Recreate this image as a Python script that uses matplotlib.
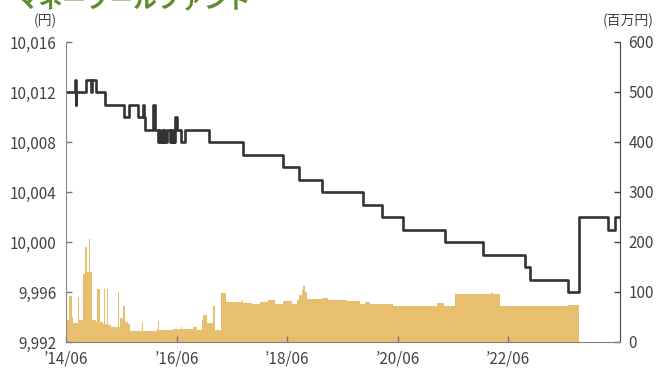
import pandas as pd
import matplotlib
matplotlib.use('Agg')
import matplotlib.pyplot as plt

plt.rcParams['font.family'] = ['Noto Sans CJK JP', 'DejaVu Sans']

# 基準価額 (円) - change points of the step line
nav_dates = ['2014-06-01', '2014-08-01', '2014-08-03', '2014-08-05', '2014-10-10',
             '2014-11-12', '2014-11-21', '2014-12-15', '2015-02-15', '2015-06-21',
             '2015-07-21', '2015-09-18', '2015-10-22', '2015-11-01', '2015-11-06',
             '2015-12-25', '2016-01-08', '2016-02-01', '2016-02-09', '2016-02-14',
             '2016-02-24', '2016-03-01', '2016-03-12', '2016-03-16', '2016-03-28',
             '2016-04-21', '2016-04-28', '2016-05-03', '2016-05-12', '2016-05-15',
             '2016-05-22', '2016-06-06', '2016-07-01', '2016-07-26', '2017-01-04',
             '2017-08-16', '2018-05-07', '2018-08-19', '2019-01-16', '2019-10-13',
             '2020-02-19', '2020-07-04', '2021-04-07', '2021-12-19', '2022-09-22',
             '2022-10-25', '2023-07-01', '2023-09-16', '2024-03-22', '2024-05-10',
             '2024-06-10']
nav_values = [10012, 10013, 10011, 10012, 10013,
              10012, 10013, 10012, 10011, 10010,
              10011, 10010, 10011, 10010, 10009,
              10011, 10009, 10008, 10009, 10008,
              10009, 10008, 10009, 10008, 10009,
              10008, 10009, 10008, 10009, 10008,
              10010, 10009, 10008, 10009, 10008,
              10007, 10006, 10005, 10004, 10003,
              10002, 10001, 10000, 9999, 9998,
              9997, 9996, 10002, 10001, 10002,
              10002]

# 純資産総額 (百万円) - change points of the area
asset_dates = ['2014-06-01', '2014-06-10', '2014-06-22', '2014-07-13', '2014-07-19',
               '2014-08-22', '2014-08-28', '2014-09-19', '2014-10-04', '2014-10-16',
               '2014-10-28', '2014-11-07', '2014-11-19', '2014-12-16', '2014-12-25',
               '2015-01-13', '2015-02-03', '2015-02-09', '2015-02-12', '2015-03-01',
               '2015-03-04', '2015-03-25', '2015-03-28', '2015-05-13', '2015-05-16',
               '2015-05-22', '2015-06-13', '2015-06-25', '2015-07-13', '2015-07-28',
               '2015-10-19', '2015-10-22', '2016-01-22', '2016-02-01', '2016-02-04',
               '2016-05-10', '2016-07-01', '2016-07-10', '2016-09-19', '2016-10-13',
               '2016-11-16', '2016-11-25', '2016-12-19', '2017-01-25', '2017-02-10',
               '2017-03-19', '2017-04-25', '2017-08-07', '2017-08-16', '2017-10-10',
               '2017-12-04', '2018-01-28', '2018-03-13', '2018-05-07', '2018-07-01',
               '2018-08-04', '2018-08-22', '2018-09-07', '2018-09-16', '2018-09-25',
               '2018-10-10', '2019-01-16', '2019-03-01', '2019-07-01', '2019-09-28',
               '2019-10-28', '2019-12-01', '2020-02-07', '2020-05-04', '2021-02-16',
               '2021-04-01', '2021-06-16', '2022-02-10', '2022-02-20', '2022-04-10',
               '2023-07-04', '2023-09-13']
asset_values = [74, 44, 92, 50, 38,
                90, 44, 137, 190, 140,
                207, 140, 45, 40, 107,
                40, 36, 106, 36, 106,
                34, 108, 31, 100, 31,
                49, 72, 40, 36, 23,
                40, 23, 27, 42, 25,
                27, 30, 27, 30, 25,
                44, 54, 38, 72, 25,
                99, 81, 85, 79, 77,
                80, 84, 77, 82, 77,
                85, 95, 105, 112, 100,
                86, 88, 84, 82, 77,
                80, 77, 76, 73, 79,
                73, 96, 98, 96, 73,
                74, 0]

tick_dates = ['2014-06-01', '2016-06-01', '2018-06-01', '2020-06-01', '2022-06-01']
tick_labels = ['’14/06', '’16/06', '’18/06', '’20/06', '’22/06']


def main():
    fig = plt.figure(figsize=(6.57, 3.70), dpi=100)
    ax = fig.add_axes([66 / 657, 1 - 342 / 370, (620 - 66) / 657, 300 / 370])
    ax2 = ax.twinx()
    # line axis above the area axis
    ax.set_zorder(ax2.get_zorder() + 1)
    ax.patch.set_visible(False)

    a_dates = pd.to_datetime(asset_dates)
    ax2.fill_between(a_dates, asset_values, step='post', color='#e8bf6e', linewidth=0)

    n_dates = pd.to_datetime(nav_dates)
    ax.step(n_dates, nav_values, where='post', color='#333333', linewidth=1.9)

    ax.set_xlim(pd.Timestamp('2014-06-01'), pd.Timestamp('2024-06-10'))
    ax.set_ylim(9992, 10016)
    ax2.set_ylim(0, 600)

    ax.set_yticks(range(9992, 10017, 4))
    ax.set_yticklabels([f'{v:,}' for v in range(9992, 10017, 4)])
    ax2.set_yticks(range(0, 601, 100))
    ax.set_xticks(pd.to_datetime(tick_dates))
    ax.set_xticklabels(tick_labels)

    for a in (ax, ax2):
        a.spines['top'].set_visible(False)
        a.tick_params(direction='in', length=4, width=1, labelsize=11,
                      labelcolor='#444444', color='#777777')
    ax.spines['left'].set_color('#888888')
    ax.spines['bottom'].set_color('#8a8070')
    ax.spines['right'].set_visible(False)
    ax2.spines['left'].set_visible(False)
    ax2.spines['bottom'].set_visible(False)
    ax2.spines['right'].set_color('#444444')
    ax.tick_params(axis='x', pad=6)
    ax.tick_params(axis='y', pad=7)
    ax2.tick_params(axis='y', pad=6, color='#444444')

    fig.text(45 / 657, 1 - 21 / 370, '(円)', fontsize=10, color='#444444',
             ha='center', va='center')
    fig.text(628 / 657, 1 - 21 / 370, '(百万円)', fontsize=10, color='#444444',
             ha='center', va='center')
    # title, clipped at the top of the image
    fig.text(16 / 657, 1 - 7 / 370, 'マネープールファンド', fontsize=17,
             fontweight='bold', color='#5b8c2e', ha='left', va='baseline')

    fig.savefig('out.png', dpi=100)
    plt.close(fig)


if __name__ == '__main__':
    main()
